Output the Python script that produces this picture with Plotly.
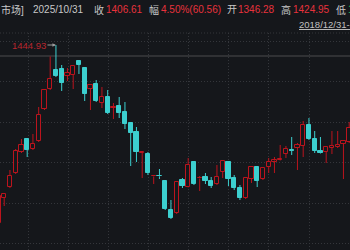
import plotly.graph_objects as go

# ---- data (price values) ----
opens = [824.85, 911.94, 950.26, 999.03, 1072.18, 1117.47, 1082.63, 1110.50, 1221.98, 1291.65,
         1357.84, 1361.32, 1336.94, 1340.42, 1389.19, 1364.81, 1291.65, 1309.07, 1242.88, 1263.78,
         1225.46, 1232.43, 1211.53, 1173.21, 1141.85, 1068.70, 1065.22, 987.00, 989.50, 971.16,
         870.13, 859.68, 974.64, 950.26, 1037.35, 979.90, 985.09, 971.16, 960.71, 1002.51,
         1037.35, 981.61, 946.77, 911.94, 978.13, 1019.93, 978.13, 1019.93, 1039.10, 1042.60,
         1065.22, 1080.90, 1086.12, 1093.08, 1166.24, 1117.47, 1075.67, 1072.18, 1086.12, 1089.60,
         1100.05, 1107.02]
highs = [925.87, 929.36, 1009.48, 1082.63, 1117.47, 1117.47, 1134.89, 1228.94, 1291.65, 1405.00,
         1444.93, 1375.26, 1364.81, 1375.26, 1392.67, 1368.29, 1309.07, 1323.00, 1298.62, 1288.17,
         1242.88, 1263.78, 1246.36, 1176.69, 1159.27, 1072.18, 1072.18, 992.06, 1012.96, 974.64,
         904.97, 971.16, 981.61, 1051.28, 1040.83, 988.58, 999.03, 985.09, 1026.90, 1044.31,
         1040.83, 992.06, 957.22, 985.09, 1023.41, 1023.41, 1019.93, 1051.28, 1054.76, 1096.57,
         1093.08, 1124.44, 1103.54, 1180.17, 1190.63, 1145.34, 1124.44, 1093.08, 1145.34, 1145.34,
         1113.99, 1176.69]
lows = [814.40, 884.07, 946.77, 995.54, 1068.70, 1054.76, 1079.15, 1107.02, 1218.49, 1288.17,
        1333.45, 1284.68, 1319.52, 1291.65, 1343.90, 1249.85, 1218.49, 1246.36, 1225.46, 1204.56,
        1187.14, 1190.63, 1152.31, 1023.41, 1037.35, 981.61, 992.06, 960.71, 978.13, 870.13,
        838.78, 856.20, 946.77, 949.00, 957.22, 936.32, 960.71, 946.77, 957.22, 981.61,
        953.74, 939.81, 904.97, 908.45, 964.19, 950.26, 974.64, 999.03, 999.03, 1040.83,
        1051.28, 1061.73, 1009.48, 1054.76, 1113.99, 1068.70, 1067.00, 1033.86, 1065.22, 1086.12,
        978.13, 1103.54]
closes = [918.90, 925.87, 988.58, 1075.67, 1096.57, 1079.15, 1100.05, 1201.08, 1288.17, 1326.49,
          1336.94, 1312.55, 1347.39, 1371.77, 1375.26, 1274.23, 1305.58, 1249.85, 1263.78, 1208.04,
          1228.94, 1208.04, 1169.72, 1138.37, 1072.18, 1072.18, 999.03, 989.50, 987.50, 873.62,
          842.27, 967.67, 953.74, 1026.90, 960.71, 983.30, 971.16, 953.74, 985.09, 1040.83,
          978.13, 946.77, 911.94, 981.61, 1019.93, 971.16, 1016.45, 1037.35, 1042.60, 1046.10,
          1082.63, 1077.40, 1096.57, 1166.24, 1117.47, 1075.67, 1070.40, 1089.60, 1093.08, 1096.57,
          1110.50, 1155.79]

last_close = 1406.61
peak_label = "1444.93"
peak_index = 10

header_items = [
    ("市场]", "label"), ("2025/10/31", "label"), ("收", "label"), ("1406.61", "up"),
    ("幅", "label"), ("4.50%(60.56)", "up"), ("开", "label"), ("1346.28", "up"),
    ("高", "label"), ("1424.95", "up"), ("低", "label"), ("1", "down"),
]
range_text = "2018/12/31-2025/10/31"

# ---- style ----
BG = "#15171b"
RED = "#bb141d"
CYAN = "#3ccfcf"
GRID = "#34363b"
FONT = "Liberation Sans, Noto Sans CJK SC, sans-serif"
header_colors = {"label": "#c8c8c8", "up": "#e8323c", "down": "#1fc25a"}
header_x_px = [-1, 31, 92, 104, 147, 159, 225, 236, 279, 291, 334, 346]

W, H = 350, 250
TOP = 33
n = len(opens)
xs = list(range(n))
up = [c >= o for o, c in zip(opens, closes)]

bar_base = [min(o, c) for o, c in zip(opens, closes)]
bar_h = [max(abs(c - o), 1.0) for o, c in zip(opens, closes)]
fill = [BG if u else CYAN for u in up]
edge = [RED if u else CYAN for u in up]

def wick_xy(want_up):
    wx, wy = [], []
    for i in xs:
        if up[i] != want_up:
            continue
        top = max(opens[i], closes[i])
        bot = min(opens[i], closes[i])
        if highs[i] > top:
            wx += [i, i, None]
            wy += [highs[i], top, None]
        if lows[i] < bot:
            wx += [i, i, None]
            wy += [bot, lows[i], None]
    return wx, wy

fig = go.Figure()
for flag, col in ((True, RED), (False, CYAN)):
    wx, wy = wick_xy(flag)
    fig.add_trace(go.Scatter(x=wx, y=wy, mode="lines", line=dict(color=col, width=1),
                             hoverinfo="skip", showlegend=False))
fig.add_trace(go.Bar(x=xs, y=bar_h, base=bar_base, width=0.72,
                     marker=dict(color=fill, line=dict(color=edge, width=1)),
                     hoverinfo="skip", showlegend=False))

annotations = []
hy = (H - 10) / (H - TOP)
for (txt, kind), px in zip(header_items, header_x_px):
    annotations.append(dict(x=px / W, y=hy, xref="paper", yref="paper", text=txt,
                            showarrow=False, xanchor="left", yanchor="middle",
                            font=dict(family=FONT, size=10, color=header_colors[kind])))
annotations.append(dict(x=297 / W, y=(H - 24) / (H - TOP), xref="paper", yref="paper",
                        text="<u>" + range_text + "</u>", showarrow=False, xanchor="left",
                        yanchor="middle", font=dict(family=FONT, size=9.5, color="#c0c0c0")))
annotations.append(dict(x=peak_index, y=highs[peak_index], xref="x", yref="y",
                        text=peak_label, showarrow=True, ax=-27, ay=0,
                        arrowhead=2, arrowsize=0.7, arrowwidth=1, arrowcolor="#9a9a9a",
                        font=dict(family=FONT, size=9.5, color="#b8262e")))

shapes = [
    dict(type="line", xref="paper", yref="y", x0=0, x1=1, y0=last_close, y1=last_close,
         line=dict(color="#3a3b3e", width=1.5), layer="below"),
    dict(type="line", xref="paper", yref="paper", x0=0, x1=1, y0=1, y1=1,
         line=dict(color=GRID, width=1, dash="1px,2px"), layer="below"),
]

px_per_x = 5.75
x0_px = -1.55
fig.update_layout(
    width=W, height=H, margin=dict(l=0, r=0, t=TOP, b=0),
    paper_bgcolor=BG, plot_bgcolor=BG, showlegend=False,
    barmode="overlay", bargap=0,
    annotations=annotations, shapes=shapes,
    xaxis=dict(range=[(0 - x0_px) / px_per_x, (W - x0_px) / px_per_x],
               showticklabels=False, zeroline=False, showline=False,
               showgrid=True, gridcolor=GRID, griddash="1px,2px", gridwidth=1,
               tick0=5.19, dtick=6.974, fixedrange=True),
    yaxis=dict(range=[730.79, 1486.73], showticklabels=False, zeroline=False, showline=False,
               showgrid=True, gridcolor=GRID, griddash="1px,2px", gridwidth=1,
               tick0=753.44, dtick=140.74, fixedrange=True),
)

fig.write_html("out.html", config={"displayModeBar": False})
